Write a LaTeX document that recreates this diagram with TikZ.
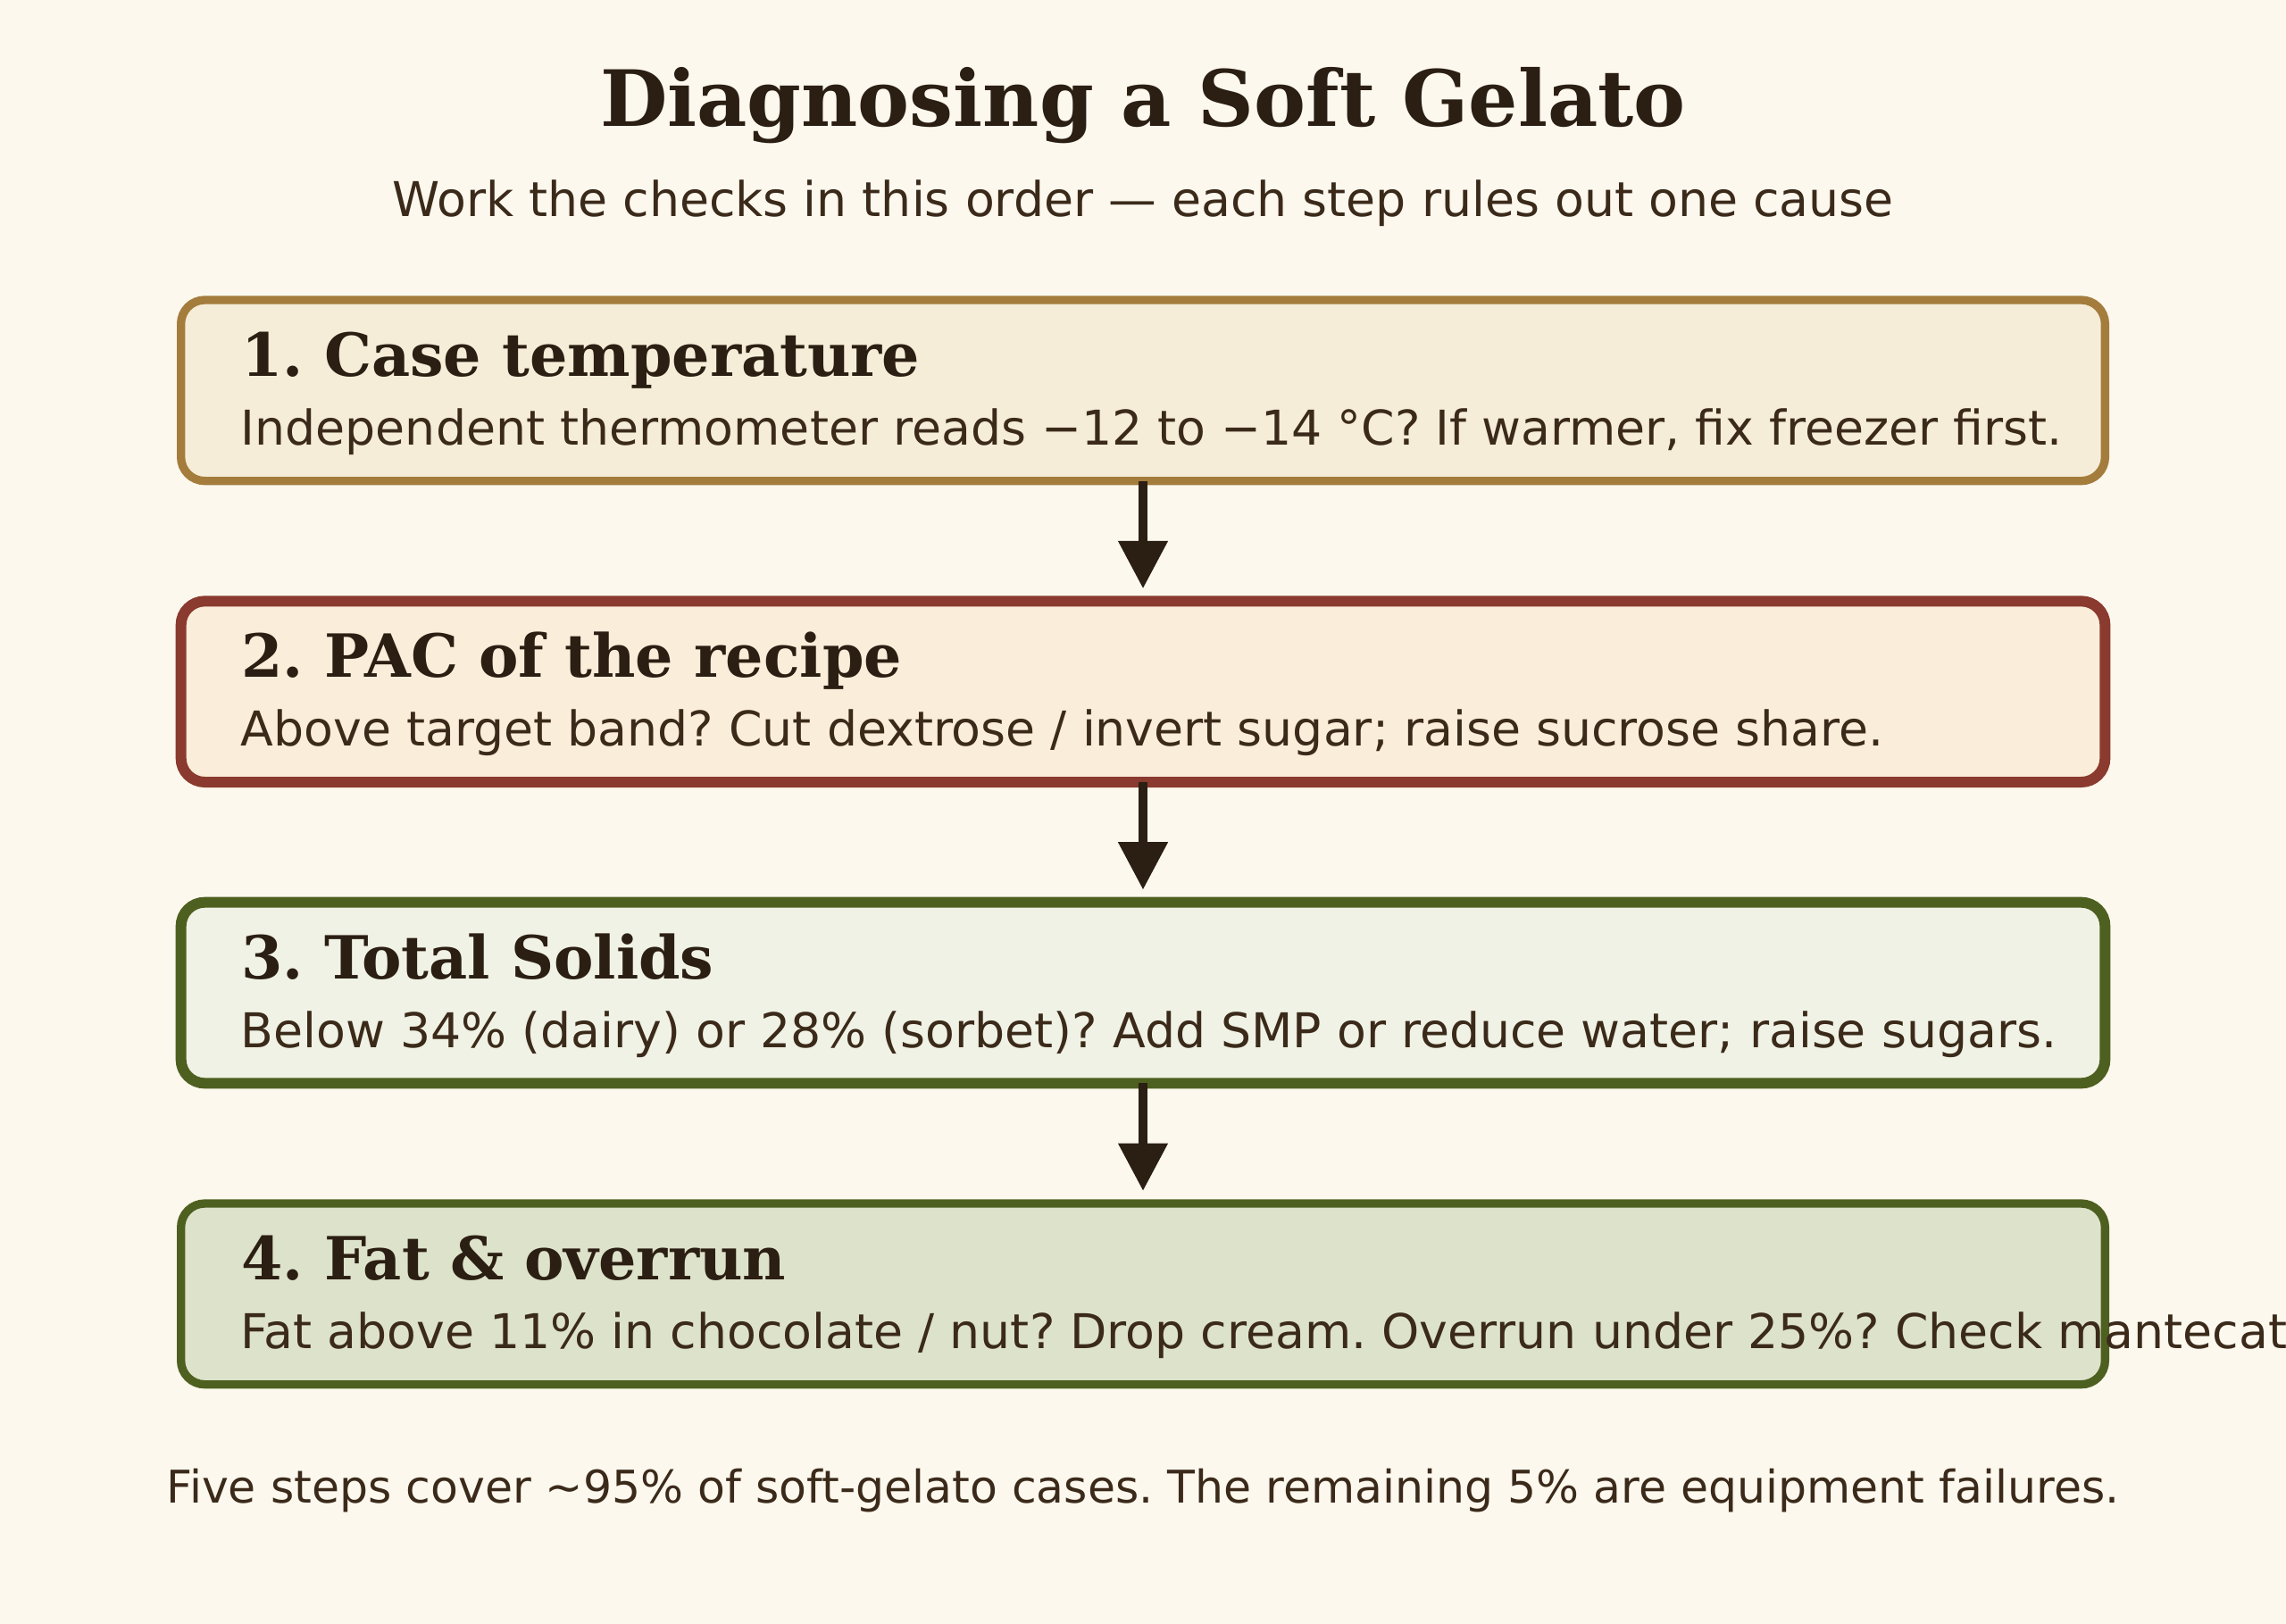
\documentclass[tikz,border=0pt]{standalone}
\usepackage{fontspec}
\setmainfont{DejaVu Sans}
\newfontfamily\hfont{DejaVu Serif}
\usetikzlibrary{arrows.meta}
\definecolor{bgc}{HTML}{FCF8EE}
\definecolor{ink}{HTML}{2B1E12}
\definecolor{bodyc}{HTML}{3B2A1A}
\definecolor{fillA}{HTML}{F5EDD8}
\definecolor{drawA}{HTML}{A47C3C}
\definecolor{fillB}{HTML}{FAEDD9}
\definecolor{drawB}{HTML}{8A3A2E}
\definecolor{fillC}{HTML}{EFF2E4}
\definecolor{drawC}{HTML}{4E6020}
\definecolor{fillD}{HTML}{DDE2CB}
\newlength\fitw
\newcommand\fitsize[4]{%
  \settowidth\fitw{#3\fontsize{10pt}{12pt}\selectfont #4}%
  \pgfmathsetmacro\tmpfs{10*#2/\fitw}%
  \expandafter\xdef\csname fs#1\endcsname{\tmpfs}}
\newcommand\usefs[1]{\fontsize{\csname fs#1\endcsname pt}{\csname fs#1\endcsname pt}\selectfont}
\AtBeginDocument{%
\frenchspacing
\fitsize{Title}{456}{\hfont\bfseries}{Diagnosing a Soft Gelato}%
\fitsize{Sub}{630.6}{}{Work the checks in this order — each step rules out one cause}%
\fitsize{Head}{285}{\hfont\bfseries}{1. Case temperature}%
\fitsize{Body}{765}{}{Independent thermometer reads −12 to −14 °C? If warmer, fix freezer first.}%
\fitsize{Foot}{820}{}{Five steps cover \textasciitilde 95\% of soft-gelato cases. The remaining 5\% are equipment failures.}%
}
\tikzset{
  stepbox/.style={rounded corners=10pt, minimum width=808pt, minimum height=76pt,
    inner sep=0pt, outer sep=0pt, anchor=north west},
  headtxt/.style={anchor=base west, inner sep=0pt, text=ink, font=\hfont\bfseries\usefs{Head}},
  bodytxt/.style={anchor=base west, inner sep=0pt, text=bodyc, font=\usefs{Body}},
  flowarrow/.style={draw=ink, line width=3.75pt, -{Triangle[width=20pt,length=20pt]}, shorten >=5.3pt},
}
\begin{document}
\begin{tikzpicture}[x=1pt,y=1pt]
\useasboundingbox (0,0) rectangle (960,-682.1);
\fill[bgc] (0,0) rectangle (960,-682.1);
\node[anchor=base, inner sep=0pt, text=ink, font=\hfont\bfseries\usefs{Title}] (title) at (480,-53.1) {Diagnosing a Soft Gelato};
\node[anchor=base, inner sep=0pt, text=bodyc, font=\usefs{Sub}] (subtitle) at (480,-91) {Work the checks in this order — each step rules out one cause};
\node[stepbox, fill=fillA, draw=drawA, line width=3.5pt] (b1) at (76,-126) {};
\node[stepbox, fill=fillB, draw=drawB, line width=4.5pt] (b2) at (76,-252.5) {};
\node[stepbox, fill=fillC, draw=drawC, line width=4.5pt] (b3) at (76,-379) {};
\node[stepbox, fill=fillD, draw=drawC, line width=3.5pt] (b4) at (76,-505.5) {};
\node[headtxt] (h1) at (101.2,-158.1) {1. Case temperature};
\node[bodytxt] (t1) at (101,-186.9) {Independent thermometer reads −12 to −14 °C? If warmer, fix freezer first.};
\node[headtxt] (h2) at (101.2,-284.6) {2. PAC of the recipe};
\node[bodytxt] (t2) at (101,-313.4) {Above target band? Cut dextrose / invert sugar; raise sucrose share.};
\node[headtxt] (h3) at (101.2,-411.1) {3. Total Solids};
\node[bodytxt] (t3) at (101,-439.9) {Below 34\% (dairy) or 28\% (sorbet)? Add SMP or reduce water; raise sugars.};
\node[headtxt] (h4) at (101.2,-537.6) {4. Fat \& overrun};
\node[bodytxt] (t4) at (101,-566.4) {Fat above 11\% in chocolate / nut? Drop cream. Overrun under 25\%? Check mantecatore.};
\draw[flowarrow] (b1.south) -- (b2.north);
\draw[flowarrow] (b2.south) -- (b3.north);
\draw[flowarrow] (b3.south) -- (b4.north);
\node[anchor=base, inner sep=0pt, text=bodyc, font=\usefs{Foot}] (foot) at (480,-631.2) {Five steps cover \textasciitilde 95\% of soft-gelato cases. The remaining 5\% are equipment failures.};
\end{tikzpicture}
\end{document}
